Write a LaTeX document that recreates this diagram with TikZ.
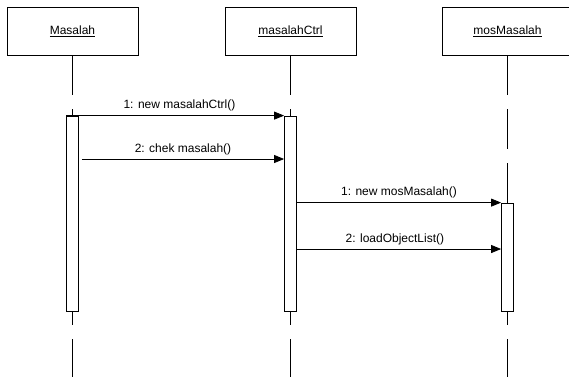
\documentclass[tikz,border=0pt]{standalone}
\usepackage{fontspec}
\setmainfont{Liberation Sans}
\usetikzlibrary{arrows.meta}
\begin{document}
\begin{tikzpicture}[x=1pt,y=-1pt,line width=0.8pt,
  txt/.style={font=\fontsize{12}{14}\selectfont},
  obj/.style={draw, txt, minimum width=131pt, minimum height=48pt, inner sep=0pt},
  act/.style={draw, fill=white, minimum width=12pt, inner sep=0pt},
  lifeline/.style={dash pattern=on 40pt off 14pt},
  msg/.style={-{Triangle[length=10pt,width=8pt]}},
  lbl/.style={txt, anchor=base, yshift=7pt, inner sep=0pt}]
\useasboundingbox (0,0) rectangle (569,376);
\clip (0,0) rectangle (569,376);
% objects
\node[obj] (A) at (72.5,31) {\underline{Masalah}};
\node[obj] (B) at (290.5,31) {\underline{masalahCtrl}};
\node[obj] (C) at (507.5,31) {\underline{mosMasalah}};
% lifeline ends
\coordinate (eA) at (72.5,377);
\coordinate (eB) at (290.5,377);
\coordinate (eC) at (507.5,377);
% activation positions (for lifelines)
\coordinate (tA) at (72.5,116);
\coordinate (tB) at (290.5,116);
\coordinate (tC) at (507.5,203);
\coordinate (bA) at (72.5,311);
\coordinate (bB) at (290.5,311);
\coordinate (bC) at (507.5,311);
% lifelines
\draw[lifeline] (A.south) -- (tA);
\draw[lifeline] (B.south) -- (tB);
\draw[lifeline] (C.south) -- (tC);
\draw[lifeline, dash phase=26pt] (bA) -- (eA);
\draw[lifeline, dash phase=26pt] (bB) -- (eB);
\draw[lifeline, dash phase=26pt] (bC) -- (eC);
% activations
\node[act, minimum height=195pt] (aA) at (72.5,213.5) {};
\node[act, minimum height=195pt] (aB) at (290.5,213.5) {};
\node[act, minimum height=108pt] (aC) at (507.5,257) {};
% messages
\draw[msg] (aA.north west) -- (aB.north west) node[lbl, pos=0.52] {1: new masalahCtrl()};
\draw[msg] ([xshift=3pt]aA.east |- 0,159) -- (aB.west |- 0,159) node[lbl, midway] {2: chek masalah()};
\draw[msg] (aB.east |- aC.north) -- (aC.north west) node[lbl, midway] {1: new mosMasalah()};
\draw[msg] (aB.east |- 0,249) -- (aC.west |- 0,249) node[lbl, pos=0.48] {2: loadObjectList()};
\end{tikzpicture}
\end{document}
